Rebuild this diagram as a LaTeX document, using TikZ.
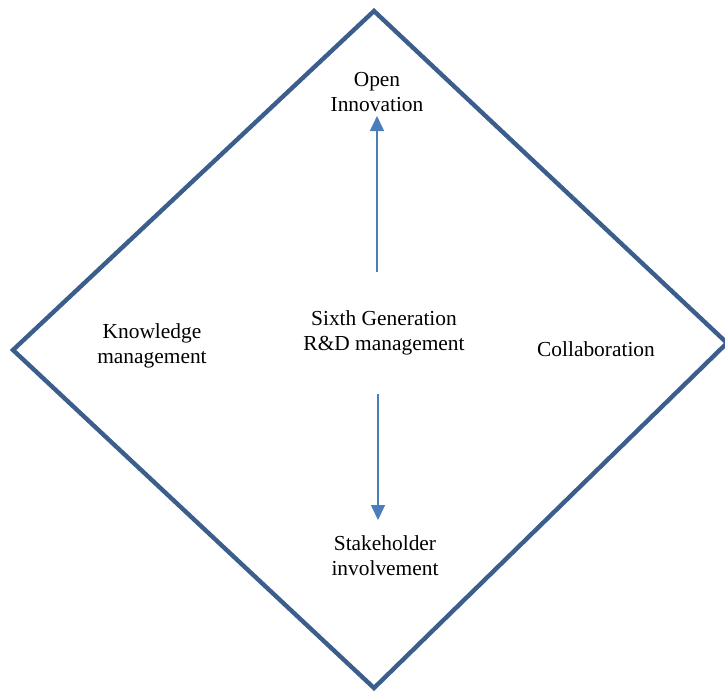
\documentclass[tikz,border=0pt]{standalone}
\usepackage{fontspec}
\setmainfont{Liberation Serif}
\usetikzlibrary{arrows.meta}
\definecolor{frameblue}{HTML}{3B5E8C}
\definecolor{arrowblue}{HTML}{4A7EBB}
\tikzset{
  lbl/.style={align=center, inner sep=0pt, font=\fontsize{21.4}{25}\selectfont},
  frame/.style={draw=frameblue, line width=4.4pt, line join=miter},
  flow/.style={draw=arrowblue, line width=1.6pt, -{Triangle[width=14pt,length=15pt]}}
}
\begin{document}
\begin{tikzpicture}[x=1pt,y=-1pt]
\useasboundingbox (0,0) rectangle (725,694);
\coordinate (T) at (374,11);
\coordinate (R) at (727,343);
\coordinate (B) at (374,688);
\coordinate (L) at (13,350);
\draw[frame] (T) -- (R) -- (B) -- (L) -- cycle;
\node[lbl] (open) at (377,92) {Open\\Innovation};
\node[lbl] (know) at (152,346) {Knowledge\\management};
\node[lbl] (center) at (384,333) {Sixth Generation\\R\&D management};
\node[lbl] (collab) at (596,349) {Collaboration};
\node[lbl] (stake) at (385,556) {Stakeholder\\involvement};
\coordinate (upS) at (377,272);
\coordinate (upE) at (377,116);
\coordinate (dnS) at (378,394);
\coordinate (dnE) at (378,520);
\draw[flow] (upS) -- (upE);
\draw[flow] (dnS) -- (dnE);
\end{tikzpicture}
\end{document}
